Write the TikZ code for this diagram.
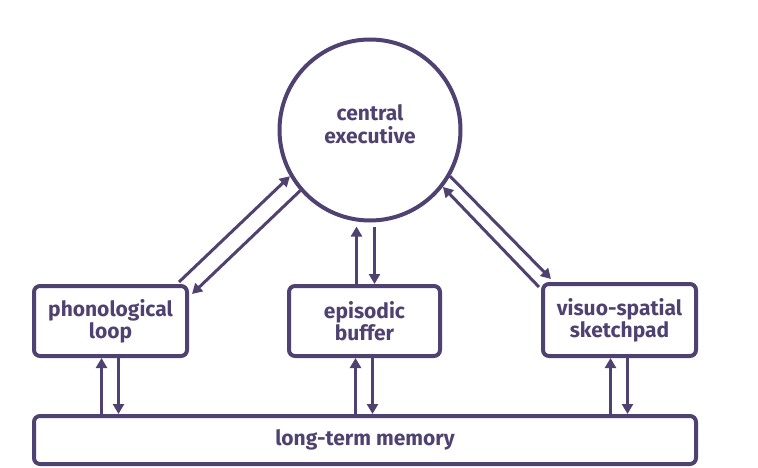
\documentclass[tikz,border=0pt]{standalone}
\usepackage{fontspec}
\setmainfont{Fira Sans}
\usetikzlibrary{arrows.meta}
\definecolor{purp}{HTML}{4F4270}

\begin{document}
\begin{tikzpicture}[x=1pt,y=-1pt,
    line width=4pt,
    box/.style={draw=purp, line width=4pt, rounded corners=6pt, align=center, inner sep=0pt,
        font=\fontsize{21}{22}\selectfont\bfseries, text=purp},
    arr/.style={-{Triangle[length=10pt,width=11pt]}, purp, line width=3pt}]
\useasboundingbox (0,0) rectangle (758,468);
% memory components
\node[box, circle, minimum size=181pt] (ce) at (370,130) {\raisebox{12pt}{\shortstack{central\\[2pt]executive}}};
\node[box, minimum width=153pt, minimum height=70pt] (pl) at (110.5,321) {phonological\\loop};
\node[box, minimum width=151pt, minimum height=70pt] (eb) at (364.5,321) {episodic\\buffer};
\node[box, minimum width=153pt, minimum height=72pt] (vs) at (619.5,320) {visuo-spatial\\sketchpad};
\node[box, minimum width=662pt, minimum height=48pt] (ltm) at (365,440) {long-term memory};
% executive links
\draw[arr] ([shift={(-10,-2)}]pl.north east) -- (ce.210);
\draw[arr] (ce.221) -- ([shift={(3,10)}]pl.north east);
\draw[arr] ([xshift=-8]eb.north) -- ([xshift=-8,yshift=-4]eb.north |- ce.south);
\draw[arr] ([xshift=10,yshift=-4]eb.north |- ce.south) -- ([xshift=10]eb.north);
\draw[arr] ([shift={(-2,5)}]vs.north west) -- (ce.-38);
\draw[arr] (ce.-30) -- ([shift={(10,-3)}]vs.north west);
% long-term memory links
\foreach \b in {pl,eb,vs} {
  \draw[arr] ([xshift=-9]\b.south |- ltm.north) -- ([xshift=-9]\b.south);
  \draw[arr] ([xshift=8]\b.south) -- ([xshift=8]\b.south |- ltm.north);
}
\end{tikzpicture}
\end{document}
